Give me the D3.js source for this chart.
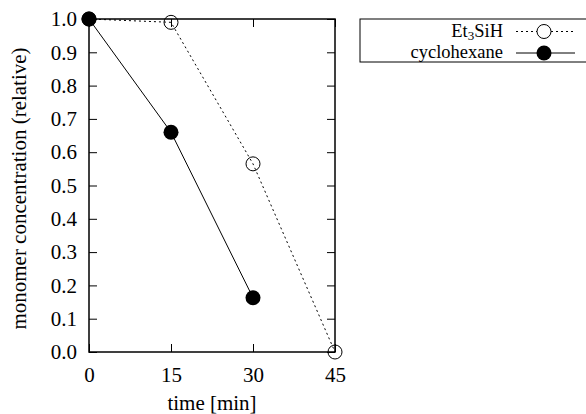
<!DOCTYPE html>
<html>
<head>
<meta charset="utf-8">
<script src="https://cdn.jsdelivr.net/npm/d3@7"></script>
<style>
  html, body { margin: 0; padding: 0; background: #fff; }
  svg { display: block; }
  svg text { font-family: "Liberation Serif", serif !important; fill: #000; }
</style>
</head>
<body>
<svg id="chart" width="586" height="414"></svg>
<script>
// Monomer concentration over time for two solvents
const times = [0, 15, 30, 45];
const et3sih = [1.0, 0.99, 0.565, 0.0];
const cyclohexane = [1.0, 0.66, 0.163];
const xTicks = [0, 15, 30, 45];
const yTicks = [0.0, 0.1, 0.2, 0.3, 0.4, 0.5, 0.6, 0.7, 0.8, 0.9, 1.0];

const FS = 21;

const svg = d3.select("#chart");
const plotL = 89, plotR = 335, plotT = 19, plotB = 352;

const x = d3.scaleLinear().domain([0, 45]).range([plotL, plotR]);
const y = d3.scaleLinear().domain([0, 1]).range([plotB, plotT]);

const tickLen = 8;

// Axes (ticks point inward, mirrored on opposite sides)
svg.append("g").attr("transform", `translate(0,${plotB})`)
  .call(d3.axisBottom(x).tickValues(xTicks).tickSize(-tickLen).tickPadding(15).tickFormat(d3.format("d")))
  .call(g => g.select(".domain").remove());
svg.append("g").attr("transform", `translate(0,${plotT})`)
  .call(d3.axisTop(x).tickValues(xTicks).tickSize(-tickLen).tickFormat(""))
  .call(g => g.select(".domain").remove());
svg.append("g").attr("transform", `translate(${plotL},0)`)
  .call(d3.axisLeft(y).tickValues(yTicks).tickSize(-tickLen).tickPadding(12).tickFormat(d3.format(".1f")))
  .call(g => g.select(".domain").remove());
svg.append("g").attr("transform", `translate(${plotR},0)`)
  .call(d3.axisRight(y).tickValues(yTicks).tickSize(-tickLen).tickFormat(""))
  .call(g => g.select(".domain").remove());

svg.selectAll(".tick line").attr("stroke", "#000").attr("stroke-width", 1);
svg.selectAll("g").attr("font-size", FS);

// Frame
svg.append("rect")
  .attr("x", plotL).attr("y", plotT)
  .attr("width", plotR - plotL).attr("height", plotB - plotT)
  .attr("fill", "none").attr("stroke", "#000").attr("stroke-width", 1.5);

// Axis titles
svg.append("text")
  .attr("x", (plotL + plotR) / 2).attr("y", 410)
  .attr("text-anchor", "middle").attr("font-size", FS)
  .text("time [min]");
svg.append("text")
  .attr("transform", `translate(26,${(plotT + plotB) / 2 + 3}) rotate(-90)`)
  .attr("text-anchor", "middle").attr("font-size", FS)
  .text("monomer concentration (relative)");

const line = d3.line().x(d => x(d[0])).y(d => y(d[1]));
const etData = times.map((t, i) => [t, et3sih[i]]);
const cyData = cyclohexane.map((v, i) => [times[i], v]);

// Et3SiH: dotted line with open circles
svg.append("path").datum(etData).attr("d", line)
  .attr("fill", "none").attr("stroke", "#000").attr("stroke-width", 1)
  .attr("stroke-dasharray", "2,3");
svg.selectAll(".et").data(etData).enter().append("circle")
  .attr("cx", d => x(d[0])).attr("cy", d => y(d[1])).attr("r", 7)
  .attr("fill", "none").attr("stroke", "#000").attr("stroke-width", 1);

// cyclohexane: solid line with filled circles
svg.append("path").datum(cyData).attr("d", line)
  .attr("fill", "none").attr("stroke", "#000").attr("stroke-width", 1);
svg.selectAll(".cy").data(cyData).enter().append("circle")
  .attr("cx", d => x(d[0])).attr("cy", d => y(d[1])).attr("r", 7.5)
  .attr("fill", "#000");

// Legend
const LFS = 18.5;
const lg = svg.append("g");
lg.append("rect").attr("x", 360).attr("y", 19).attr("width", 240).attr("height", 43)
  .attr("fill", "#fff").attr("stroke", "#000").attr("stroke-width", 1);

const row1 = 31.5, row2 = 53, mx = 544, lx1 = 516, lx2 = 575;
const t1 = lg.append("text").attr("x", 503).attr("y", 36.5)
  .attr("text-anchor", "end").attr("font-size", LFS);
t1.append("tspan").text("Et");
t1.append("tspan").attr("font-size", 13).attr("dy", 3).text("3");
t1.append("tspan").attr("dy", -3).text("SiH");
lg.append("line").attr("x1", lx1).attr("x2", lx2).attr("y1", row1).attr("y2", row1)
  .attr("stroke", "#000").attr("stroke-dasharray", "2,3");
lg.append("circle").attr("cx", mx).attr("cy", row1).attr("r", 7)
  .attr("fill", "#fff").attr("stroke", "#000");

lg.append("text").attr("x", 503).attr("y", 58)
  .attr("text-anchor", "end").attr("font-size", LFS)
  .text("cyclohexane");
lg.append("line").attr("x1", lx1).attr("x2", lx2).attr("y1", row2).attr("y2", row2)
  .attr("stroke", "#000");
lg.append("circle").attr("cx", mx).attr("cy", row2).attr("r", 7.5).attr("fill", "#000");
</script>
</body>
</html>
